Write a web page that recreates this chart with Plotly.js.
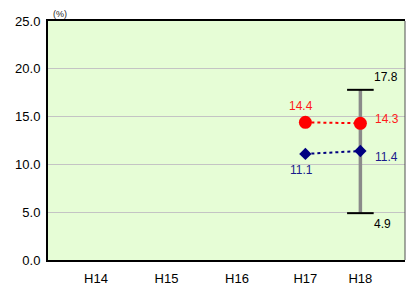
<!DOCTYPE html>
<html><head><meta charset="utf-8">
<script src="https://cdn.plot.ly/plotly-3.0.1.min.js"></script>
<style>html,body{margin:0;padding:0;background:#fff}#chart{width:406px;height:285px}</style>
</head><body><div id="chart"></div>
<script>
// ---- data ----
const years = ['H14','H15','H16','H17','H18'];
const redValues = [null, null, null, 14.4, 14.3];
const blueValues = [null, null, null, 11.1, 11.4];
const rangeYear = 'H18';
const rangeHigh = 17.8;
const rangeLow = 4.9;
const yTickVals = [0, 5, 10, 15, 20, 25];

// ---- layout positions (not data) ----
const xPos = [0, 1, 2, 2.97, 3.75];
const posOf = y => xPos[years.indexOf(y)];

const fmt = v => v.toFixed(1);
const rx = posOf(rangeYear);

const traces = [
  {x:[rx, rx], y:[rangeLow, rangeHigh], mode:'lines', line:{color:'#8a8a8a', width:3.5}, hoverinfo:'skip'},
  {x:[rx, rx], y:[rangeLow, rangeHigh], mode:'markers', marker:{symbol:'line-ew', size:19, line:{color:'#000', width:2}}, hoverinfo:'skip'},
  {x:xPos, y:redValues, mode:'lines+markers', line:{color:'#ff0000', width:2, dash:'dot'}, marker:{color:'#ff0000', size:13, symbol:'circle'}},
  {x:xPos, y:blueValues, mode:'lines+markers', line:{color:'#000080', width:2, dash:'dot'}, marker:{color:'#000080', size:9.5, symbol:'diamond'}}
];

const ann = [];
const lf = c => ({family:'Arial, Liberation Sans, sans-serif', size:12, color:c});
redValues.forEach((v,i)=>{ if(v==null) return;
  const last = i === redValues.length-1;
  ann.push({x:xPos[i], y:v, text:fmt(v), showarrow:false, font:lf('#ff1a1a'),
    xshift: last?27:-4, yshift: last?4:16});
});
blueValues.forEach((v,i)=>{ if(v==null) return;
  const last = i === blueValues.length-1;
  ann.push({x:xPos[i], y:v, text:fmt(v), showarrow:false, font:lf('#1a1a8c'),
    xshift: last?26:-4, yshift: last?-6:-16});
});
ann.push({x:rx, y:rangeHigh, text:fmt(rangeHigh), showarrow:false, font:lf('#000'), xshift:26, yshift:13});
ann.push({x:rx, y:rangeLow, text:fmt(rangeLow), showarrow:false, font:lf('#000'), xshift:22, yshift:-11});
ann.push({xref:'paper', yref:'paper', x:0, y:1, xanchor:'left', yanchor:'bottom', xshift:3, yshift:0,
  text:'(%)', showarrow:false, font:{family:'Arial, Liberation Sans, sans-serif', size:9, color:'#222'}});

const layout = {
  width:406, height:285,
  margin:{l:48, r:1, t:21, b:25},
  paper_bgcolor:'#ffffff', plot_bgcolor:'#e6fdd6',
  showlegend:false,
  font:{family:'Arial, Liberation Sans, sans-serif', size:13, color:'#000'},
  xaxis:{range:[-0.681, 4.383], tickvals:xPos, ticktext:years, showgrid:false, zeroline:false,
    showline:true, linecolor:'#000', linewidth:2, mirror:true,
    ticks:'outside', ticklen:5, tickcolor:'rgba(0,0,0,0)', tickfont:{size:13}},
  yaxis:{range:[0,25], tickvals:yTickVals, tickformat:'.1f', showgrid:true, gridcolor:'#c4c4c4', gridwidth:1,
    zeroline:false, showline:true, linecolor:'#000', linewidth:2,
    ticks:'outside', ticklen:3, tickcolor:'rgba(0,0,0,0)', tickfont:{size:13}},
  shapes:[{type:'line', xref:'paper', yref:'paper', x0:1, x1:1, y0:0, y1:1, line:{color:'#505050', width:1}}],
  annotations:ann
};
Plotly.newPlot('chart', traces, layout, {displayModeBar:false, staticPlot:true});
</script></body></html>
